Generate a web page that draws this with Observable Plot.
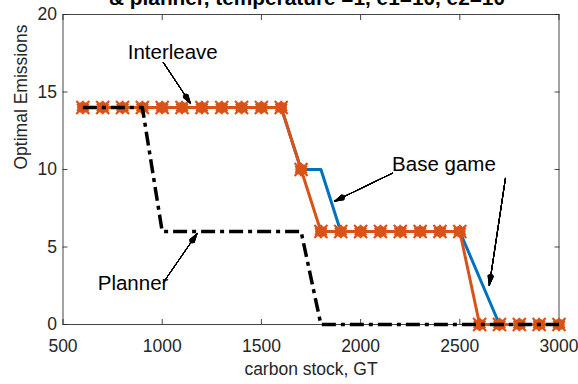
<!DOCTYPE html>
<html>
<head>
<meta charset="utf-8">
<script src="https://cdn.jsdelivr.net/npm/d3@7"></script>
<script src="https://cdn.jsdelivr.net/npm/@observablehq/plot@0.6"></script>
<style>
  html, body { margin: 0; padding: 0; background: white; }
  #chart { width: 578px; height: 384px; overflow: hidden; }
</style>
</head>
<body>
<div id="chart"></div>
<script>
// ---- data ----
const stock = [600, 700, 800, 900, 1000, 1100, 1200, 1300, 1400, 1500, 1600, 1700, 1800,
               1900, 2000, 2100, 2200, 2300, 2400, 2500, 2600, 2700, 2800, 2900, 3000];
const baseGame   = [14, 14, 14, 14, 14, 14, 14, 14, 14, 14, 14, 10, 10, 6, 6, 6, 6, 6, 6, 6, 3, 0, 0, 0, 0];
const interleave = [14, 14, 14, 14, 14, 14, 14, 14, 14, 14, 14, 10, 6, 6, 6, 6, 6, 6, 6, 6, 0, 0, 0, 0, 0];
const planner    = [14, 14, 14, 14, 6, 6, 6, 6, 6, 6, 6, 6, 0, 0, 0, 0, 0, 0, 0, 0, 0, 0, 0, 0, 0];

const xTicks = [500, 1000, 1500, 2000, 2500, 3000];
const yTicks = [0, 5, 10, 15, 20];

const titleText = "& planner, temperature =1, e1=10, e2=10";
const xLabel = "carbon stock, GT";
const yLabel = "Optimal Emissions";

// annotations: label position and arrow (tail -> tip) in data units
const labels = [
  {text: "Interleave", x: 1053, y: 17.56},
  {text: "Base game",  x: 2420, y: 10.32},
  {text: "Planner",    x: 853,  y: 2.62}
];
const arrows = [
  {x1: 1006, y1: 16.9, x2: 1143, y2: 14.25},
  {x1: 2160, y1: 9.76, x2: 1868, y2: 7.95},
  {x1: 2730, y1: 9.43, x2: 2649, y2: 2.54},
  {x1: 1008, y1: 2.75, x2: 1176, y2: 5.87}
];

const rows = stock.map((x, i) => ({x, base: baseGame[i], inter: interleave[i], plan: planner[i]}));

const BLUE = "#0072BD", ORANGE = "#D95319", INK = "#262626";
const FONT = "'Liberation Sans', Arial, Helvetica, sans-serif";

// stacked arrowheads with several opening angles to fill the head
const headAngles = [3, 7, 11, 15, 19, 23, 27, 31, 35];
const arrowMarks = headAngles.map(a =>
  Plot.arrow(arrows, {x1: "x1", y1: "y1", x2: "x2", y2: "y2", stroke: "black",
    strokeWidth: 1, headLength: 17 - a * 0.08, headAngle: a})
);

const chart = Plot.plot({
  width: 578,
  height: 384,
  marginLeft: 62.5,
  marginRight: 19.5,
  marginTop: 14,
  marginBottom: 60,
  x: {domain: [500, 3000]},
  y: {domain: [0, 20]},
  style: {fontFamily: FONT, background: "white", color: INK, overflow: "visible"},
  marks: [
    // ticks pointing inward on all four sides
    Plot.axisX(xTicks, {anchor: "bottom", tickSize: -5, tickFormat: () => "", label: null, stroke: INK, strokeOpacity: 0.85}),
    Plot.axisX(xTicks, {anchor: "top", tickSize: -5, tickFormat: () => "", label: null, stroke: INK, strokeOpacity: 0.85}),
    Plot.axisY(yTicks, {anchor: "left", tickSize: -5, tickFormat: () => "", label: null, stroke: INK, strokeOpacity: 0.85}),
    Plot.axisY(yTicks, {anchor: "right", tickSize: -5, tickFormat: () => "", label: null, stroke: INK, strokeOpacity: 0.85}),
    Plot.frame({stroke: INK, strokeOpacity: 0.85, strokeWidth: 1}),
    // tick labels
    Plot.text(xTicks, {x: d => d, frameAnchor: "bottom", dy: 21.4, lineAnchor: "middle", fontSize: 17.5, fill: INK, text: d => String(d)}),
    Plot.text(yTicks, {y: d => d, frameAnchor: "left", dx: -6, textAnchor: "end", lineAnchor: "middle", fontSize: 17.5, fill: INK, text: d => String(d)}),
    // axis labels & title
    Plot.text([xLabel], {frameAnchor: "bottom", dy: 45.2, lineAnchor: "middle", fontSize: 17.5, fill: INK}),
    Plot.text([yLabel], {frameAnchor: "left", dx: -41.5, rotate: -90, lineAnchor: "middle", fontSize: 17.5, fill: INK}),
    Plot.text([titleText], {frameAnchor: "top", dx: -4, dy: -15.7, lineAnchor: "middle", fontSize: 20.8, fontWeight: "bold", fill: "black"}),
    // series
    Plot.line(rows, {x: "x", y: "base", stroke: BLUE, strokeWidth: 3}),
    Plot.line(rows, {x: "x", y: "inter", stroke: ORANGE, strokeWidth: 3}),
    Plot.dot(rows, {x: "x", y: "inter", r: 5.8, fill: ORANGE, stroke: null}),
    Plot.dot(rows, {x: "x", y: "inter", r: 6.5, symbol: "asterisk", stroke: ORANGE, strokeWidth: 2.2}),
    Plot.dot(rows, {x: "x", y: "inter", r: 6, symbol: "times", stroke: ORANGE, strokeWidth: 2.2}),
    Plot.line(rows, {x: "x", y: "plan", stroke: "black", strokeWidth: 3.5, strokeDasharray: "14,5,4,5", strokeLinecap: "butt"}),
    // annotations
    ...arrowMarks,
    Plot.text(labels, {x: "x", y: "y", text: "text", fontSize: 20.5, lineAnchor: "middle", fill: "black"})
  ]
});
document.getElementById("chart").appendChild(chart);
</script>
</body>
</html>
